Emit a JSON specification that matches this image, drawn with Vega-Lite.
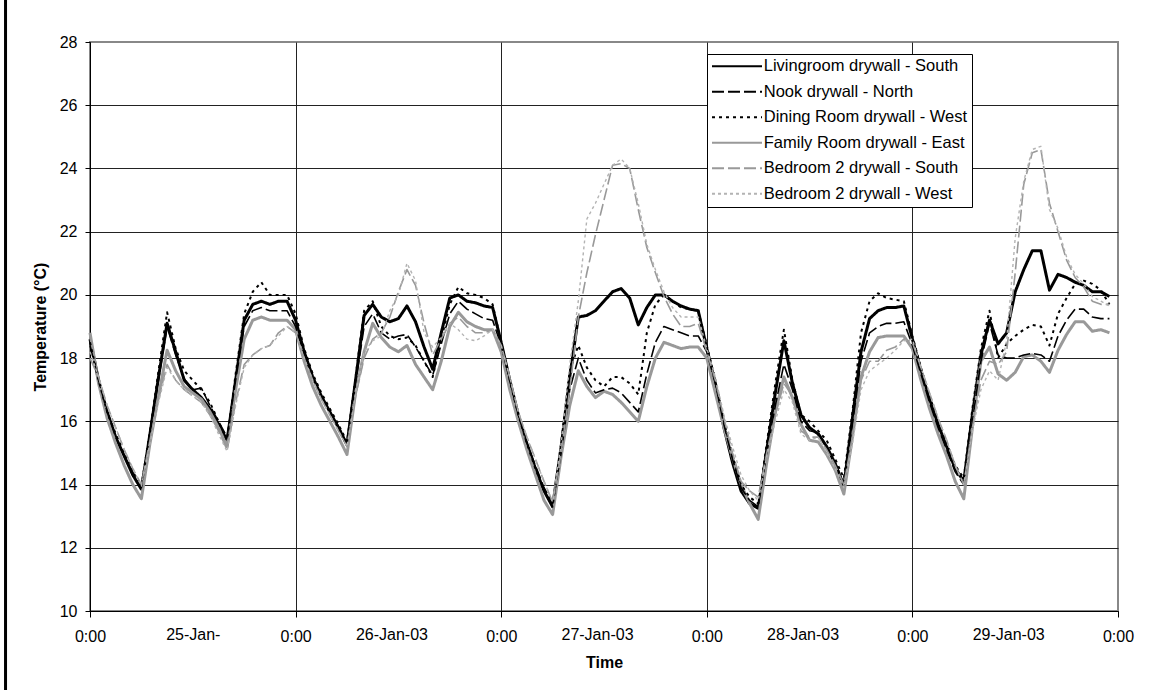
{
  "$schema": "https://vega.github.io/schema/vega-lite/v6.json",
  "width": 1028,
  "height": 569,
  "autosize": {"type": "none"},
  "padding": {"left": 90, "top": 42, "right": 38, "bottom": 79},
  "background": "white",
  "data": {"values": [
{"t":0,"s":"A","v":18.6},{"t":1,"s":"A","v":17.3},{"t":2,"s":"A","v":16.3},{"t":3,"s":"A","v":15.5},{"t":4,"s":"A","v":14.9},{"t":5,"s":"A","v":14.3},{"t":6,"s":"A","v":13.85},{"t":7,"s":"A","v":15.6},{"t":8,"s":"A","v":17.4},{"t":9,"s":"A","v":19.1},{"t":10,"s":"A","v":18.2},{"t":11,"s":"A","v":17.3},{"t":12,"s":"A","v":17.0},{"t":13,"s":"A","v":16.75},{"t":14,"s":"A","v":16.4},{"t":15,"s":"A","v":15.9},{"t":16,"s":"A","v":15.4},{"t":17,"s":"A","v":17.3},{"t":18,"s":"A","v":19.2},{"t":19,"s":"A","v":19.7},{"t":20,"s":"A","v":19.8},{"t":21,"s":"A","v":19.7},{"t":22,"s":"A","v":19.8},{"t":23,"s":"A","v":19.8},
{"t":24,"s":"A","v":19.2},{"t":25,"s":"A","v":18.2},{"t":26,"s":"A","v":17.4},{"t":27,"s":"A","v":16.8},{"t":28,"s":"A","v":16.3},{"t":29,"s":"A","v":15.8},{"t":30,"s":"A","v":15.25},{"t":31,"s":"A","v":17.3},{"t":32,"s":"A","v":19.35},{"t":33,"s":"A","v":19.7},{"t":34,"s":"A","v":19.3},{"t":35,"s":"A","v":19.15},{"t":36,"s":"A","v":19.25},{"t":37,"s":"A","v":19.65},{"t":38,"s":"A","v":19.15},{"t":39,"s":"A","v":18.35},{"t":40,"s":"A","v":17.65},{"t":41,"s":"A","v":18.8},{"t":42,"s":"A","v":19.9},{"t":43,"s":"A","v":20.0},{"t":44,"s":"A","v":19.8},{"t":45,"s":"A","v":19.75},{"t":46,"s":"A","v":19.65},{"t":47,"s":"A","v":19.6},
{"t":48,"s":"A","v":18.5},{"t":49,"s":"A","v":17.3},{"t":50,"s":"A","v":16.2},{"t":51,"s":"A","v":15.3},{"t":52,"s":"A","v":14.5},{"t":53,"s":"A","v":13.8},{"t":54,"s":"A","v":13.3},{"t":55,"s":"A","v":15.2},{"t":56,"s":"A","v":17.4},{"t":57,"s":"A","v":19.3},{"t":58,"s":"A","v":19.35},{"t":59,"s":"A","v":19.5},{"t":60,"s":"A","v":19.8},{"t":61,"s":"A","v":20.1},{"t":62,"s":"A","v":20.2},{"t":63,"s":"A","v":19.9},{"t":64,"s":"A","v":19.05},{"t":65,"s":"A","v":19.6},{"t":66,"s":"A","v":20.0},{"t":67,"s":"A","v":20.0},{"t":68,"s":"A","v":19.8},{"t":69,"s":"A","v":19.65},{"t":70,"s":"A","v":19.55},{"t":71,"s":"A","v":19.5},
{"t":72,"s":"A","v":18.3},{"t":73,"s":"A","v":17.2},{"t":74,"s":"A","v":15.8},{"t":75,"s":"A","v":14.7},{"t":76,"s":"A","v":13.8},{"t":77,"s":"A","v":13.4},{"t":78,"s":"A","v":13.25},{"t":79,"s":"A","v":15.1},{"t":80,"s":"A","v":16.9},{"t":81,"s":"A","v":18.55},{"t":82,"s":"A","v":17.2},{"t":83,"s":"A","v":16.2},{"t":84,"s":"A","v":15.8},{"t":85,"s":"A","v":15.6},{"t":86,"s":"A","v":15.2},{"t":87,"s":"A","v":14.65},{"t":88,"s":"A","v":13.95},{"t":89,"s":"A","v":16.1},{"t":90,"s":"A","v":18.2},{"t":91,"s":"A","v":19.25},{"t":92,"s":"A","v":19.5},{"t":93,"s":"A","v":19.6},{"t":94,"s":"A","v":19.6},{"t":95,"s":"A","v":19.65},
{"t":96,"s":"A","v":18.6},{"t":97,"s":"A","v":17.6},{"t":98,"s":"A","v":16.7},{"t":99,"s":"A","v":15.9},{"t":100,"s":"A","v":15.2},{"t":101,"s":"A","v":14.5},{"t":102,"s":"A","v":14.1},{"t":103,"s":"A","v":16.2},{"t":104,"s":"A","v":18.1},{"t":105,"s":"A","v":19.2},{"t":106,"s":"A","v":18.45},{"t":107,"s":"A","v":18.8},{"t":108,"s":"A","v":20.1},{"t":109,"s":"A","v":20.8},{"t":110,"s":"A","v":21.4},{"t":111,"s":"A","v":21.4},{"t":112,"s":"A","v":20.15},{"t":113,"s":"A","v":20.65},{"t":114,"s":"A","v":20.55},{"t":115,"s":"A","v":20.4},{"t":116,"s":"A","v":20.3},{"t":117,"s":"A","v":20.1},{"t":118,"s":"A","v":20.1},{"t":119,"s":"A","v":19.95},
{"t":0,"s":"B","v":18.4},{"t":1,"s":"B","v":17.3},{"t":2,"s":"B","v":16.3},{"t":3,"s":"B","v":15.5},{"t":4,"s":"B","v":14.9},{"t":5,"s":"B","v":14.4},{"t":6,"s":"B","v":13.9},{"t":7,"s":"B","v":15.6},{"t":8,"s":"B","v":17.3},{"t":9,"s":"B","v":19.0},{"t":10,"s":"B","v":18.1},{"t":11,"s":"B","v":17.35},{"t":12,"s":"B","v":17.0},{"t":13,"s":"B","v":17.05},{"t":14,"s":"B","v":16.5},{"t":15,"s":"B","v":16.0},{"t":16,"s":"B","v":15.5},{"t":17,"s":"B","v":17.3},{"t":18,"s":"B","v":19.0},{"t":19,"s":"B","v":19.5},{"t":20,"s":"B","v":19.6},{"t":21,"s":"B","v":19.5},{"t":22,"s":"B","v":19.5},{"t":23,"s":"B","v":19.5},
{"t":24,"s":"B","v":19.0},{"t":25,"s":"B","v":18.1},{"t":26,"s":"B","v":17.4},{"t":27,"s":"B","v":16.8},{"t":28,"s":"B","v":16.3},{"t":29,"s":"B","v":15.85},{"t":30,"s":"B","v":15.3},{"t":31,"s":"B","v":17.2},{"t":32,"s":"B","v":19.0},{"t":33,"s":"B","v":19.4},{"t":34,"s":"B","v":18.8},{"t":35,"s":"B","v":18.6},{"t":36,"s":"B","v":18.7},{"t":37,"s":"B","v":18.75},{"t":38,"s":"B","v":18.35},{"t":39,"s":"B","v":17.9},{"t":40,"s":"B","v":17.45},{"t":41,"s":"B","v":18.45},{"t":42,"s":"B","v":19.4},{"t":43,"s":"B","v":19.8},{"t":44,"s":"B","v":19.55},{"t":45,"s":"B","v":19.4},{"t":46,"s":"B","v":19.25},{"t":47,"s":"B","v":19.2},
{"t":48,"s":"B","v":18.4},{"t":49,"s":"B","v":17.3},{"t":50,"s":"B","v":16.2},{"t":51,"s":"B","v":15.3},{"t":52,"s":"B","v":14.6},{"t":53,"s":"B","v":13.9},{"t":54,"s":"B","v":13.4},{"t":55,"s":"B","v":15.0},{"t":56,"s":"B","v":17.0},{"t":57,"s":"B","v":18.0},{"t":58,"s":"B","v":17.3},{"t":59,"s":"B","v":16.9},{"t":60,"s":"B","v":17.0},{"t":61,"s":"B","v":17.05},{"t":62,"s":"B","v":16.9},{"t":63,"s":"B","v":16.6},{"t":64,"s":"B","v":16.3},{"t":65,"s":"B","v":17.5},{"t":66,"s":"B","v":18.5},{"t":67,"s":"B","v":19.0},{"t":68,"s":"B","v":18.9},{"t":69,"s":"B","v":18.8},{"t":70,"s":"B","v":18.7},{"t":71,"s":"B","v":18.7},
{"t":72,"s":"B","v":18.2},{"t":73,"s":"B","v":17.2},{"t":74,"s":"B","v":15.9},{"t":75,"s":"B","v":14.8},{"t":76,"s":"B","v":13.9},{"t":77,"s":"B","v":13.5},{"t":78,"s":"B","v":13.3},{"t":79,"s":"B","v":15.0},{"t":80,"s":"B","v":16.5},{"t":81,"s":"B","v":17.8},{"t":82,"s":"B","v":17.0},{"t":83,"s":"B","v":16.0},{"t":84,"s":"B","v":15.7},{"t":85,"s":"B","v":15.65},{"t":86,"s":"B","v":15.2},{"t":87,"s":"B","v":14.7},{"t":88,"s":"B","v":14.0},{"t":89,"s":"B","v":15.9},{"t":90,"s":"B","v":17.9},{"t":91,"s":"B","v":18.8},{"t":92,"s":"B","v":19.0},{"t":93,"s":"B","v":19.1},{"t":94,"s":"B","v":19.1},{"t":95,"s":"B","v":19.15},
{"t":96,"s":"B","v":18.4},{"t":97,"s":"B","v":17.5},{"t":98,"s":"B","v":16.6},{"t":99,"s":"B","v":15.8},{"t":100,"s":"B","v":15.1},{"t":101,"s":"B","v":14.4},{"t":102,"s":"B","v":14.0},{"t":103,"s":"B","v":16.0},{"t":104,"s":"B","v":17.9},{"t":105,"s":"B","v":19.1},{"t":106,"s":"B","v":18.1},{"t":107,"s":"B","v":18.0},{"t":108,"s":"B","v":18.0},{"t":109,"s":"B","v":18.1},{"t":110,"s":"B","v":18.15},{"t":111,"s":"B","v":18.1},{"t":112,"s":"B","v":17.9},{"t":113,"s":"B","v":18.7},{"t":114,"s":"B","v":19.2},{"t":115,"s":"B","v":19.55},{"t":116,"s":"B","v":19.55},{"t":117,"s":"B","v":19.3},{"t":118,"s":"B","v":19.25},{"t":119,"s":"B","v":19.25},
{"t":0,"s":"C","v":18.5},{"t":1,"s":"C","v":17.3},{"t":2,"s":"C","v":16.3},{"t":3,"s":"C","v":15.6},{"t":4,"s":"C","v":15.0},{"t":5,"s":"C","v":14.4},{"t":6,"s":"C","v":13.95},{"t":7,"s":"C","v":15.7},{"t":8,"s":"C","v":17.6},{"t":9,"s":"C","v":19.45},{"t":10,"s":"C","v":18.3},{"t":11,"s":"C","v":17.6},{"t":12,"s":"C","v":17.3},{"t":13,"s":"C","v":17.0},{"t":14,"s":"C","v":16.6},{"t":15,"s":"C","v":16.0},{"t":16,"s":"C","v":15.4},{"t":17,"s":"C","v":17.5},{"t":18,"s":"C","v":19.4},{"t":19,"s":"C","v":20.1},{"t":20,"s":"C","v":20.4},{"t":21,"s":"C","v":20.0},{"t":22,"s":"C","v":20.0},{"t":23,"s":"C","v":20.0},
{"t":24,"s":"C","v":19.4},{"t":25,"s":"C","v":18.3},{"t":26,"s":"C","v":17.5},{"t":27,"s":"C","v":16.9},{"t":28,"s":"C","v":16.4},{"t":29,"s":"C","v":15.9},{"t":30,"s":"C","v":15.35},{"t":31,"s":"C","v":17.4},{"t":32,"s":"C","v":19.5},{"t":33,"s":"C","v":19.8},{"t":34,"s":"C","v":19.0},{"t":35,"s":"C","v":18.7},{"t":36,"s":"C","v":18.6},{"t":37,"s":"C","v":18.65},{"t":38,"s":"C","v":18.4},{"t":39,"s":"C","v":17.9},{"t":40,"s":"C","v":17.4},{"t":41,"s":"C","v":18.6},{"t":42,"s":"C","v":19.7},{"t":43,"s":"C","v":20.25},{"t":44,"s":"C","v":20.05},{"t":45,"s":"C","v":20.0},{"t":46,"s":"C","v":19.9},{"t":47,"s":"C","v":19.7},
{"t":48,"s":"C","v":18.5},{"t":49,"s":"C","v":17.3},{"t":50,"s":"C","v":16.2},{"t":51,"s":"C","v":15.3},{"t":52,"s":"C","v":14.5},{"t":53,"s":"C","v":13.8},{"t":54,"s":"C","v":13.3},{"t":55,"s":"C","v":15.3},{"t":56,"s":"C","v":17.6},{"t":57,"s":"C","v":18.4},{"t":58,"s":"C","v":17.7},{"t":59,"s":"C","v":17.3},{"t":60,"s":"C","v":17.1},{"t":61,"s":"C","v":17.4},{"t":62,"s":"C","v":17.4},{"t":63,"s":"C","v":17.2},{"t":64,"s":"C","v":16.85},{"t":65,"s":"C","v":18.8},{"t":66,"s":"C","v":19.7},{"t":67,"s":"C","v":20.0},{"t":68,"s":"C","v":19.8},{"t":69,"s":"C","v":19.6},{"t":70,"s":"C","v":19.55},{"t":71,"s":"C","v":19.5},
{"t":72,"s":"C","v":18.4},{"t":73,"s":"C","v":17.3},{"t":74,"s":"C","v":16.0},{"t":75,"s":"C","v":14.9},{"t":76,"s":"C","v":14.0},{"t":77,"s":"C","v":13.6},{"t":78,"s":"C","v":13.4},{"t":79,"s":"C","v":15.3},{"t":80,"s":"C","v":17.2},{"t":81,"s":"C","v":18.9},{"t":82,"s":"C","v":17.3},{"t":83,"s":"C","v":16.2},{"t":84,"s":"C","v":16.0},{"t":85,"s":"C","v":15.7},{"t":86,"s":"C","v":15.4},{"t":87,"s":"C","v":14.8},{"t":88,"s":"C","v":14.2},{"t":89,"s":"C","v":16.3},{"t":90,"s":"C","v":18.8},{"t":91,"s":"C","v":19.8},{"t":92,"s":"C","v":20.05},{"t":93,"s":"C","v":19.9},{"t":94,"s":"C","v":19.85},{"t":95,"s":"C","v":19.8},
{"t":96,"s":"C","v":18.7},{"t":97,"s":"C","v":17.7},{"t":98,"s":"C","v":16.8},{"t":99,"s":"C","v":16.0},{"t":100,"s":"C","v":15.3},{"t":101,"s":"C","v":14.6},{"t":102,"s":"C","v":14.2},{"t":103,"s":"C","v":16.4},{"t":104,"s":"C","v":18.3},{"t":105,"s":"C","v":19.5},{"t":106,"s":"C","v":18.0},{"t":107,"s":"C","v":18.45},{"t":108,"s":"C","v":18.7},{"t":109,"s":"C","v":18.9},{"t":110,"s":"C","v":19.05},{"t":111,"s":"C","v":19.0},{"t":112,"s":"C","v":18.4},{"t":113,"s":"C","v":19.4},{"t":114,"s":"C","v":19.9},{"t":115,"s":"C","v":20.35},{"t":116,"s":"C","v":20.45},{"t":117,"s":"C","v":20.35},{"t":118,"s":"C","v":20.15},{"t":119,"s":"C","v":19.7},
{"t":0,"s":"D","v":18.8},{"t":1,"s":"D","v":17.2},{"t":2,"s":"D","v":16.1},{"t":3,"s":"D","v":15.3},{"t":4,"s":"D","v":14.6},{"t":5,"s":"D","v":14.0},{"t":6,"s":"D","v":13.55},{"t":7,"s":"D","v":15.3},{"t":8,"s":"D","v":16.8},{"t":9,"s":"D","v":18.25},{"t":10,"s":"D","v":17.6},{"t":11,"s":"D","v":17.1},{"t":12,"s":"D","v":16.9},{"t":13,"s":"D","v":16.7},{"t":14,"s":"D","v":16.3},{"t":15,"s":"D","v":15.8},{"t":16,"s":"D","v":15.2},{"t":17,"s":"D","v":17.0},{"t":18,"s":"D","v":18.6},{"t":19,"s":"D","v":19.2},{"t":20,"s":"D","v":19.3},{"t":21,"s":"D","v":19.2},{"t":22,"s":"D","v":19.2},{"t":23,"s":"D","v":19.2},
{"t":24,"s":"D","v":18.9},{"t":25,"s":"D","v":17.9},{"t":26,"s":"D","v":17.1},{"t":27,"s":"D","v":16.5},{"t":28,"s":"D","v":16.0},{"t":29,"s":"D","v":15.5},{"t":30,"s":"D","v":14.95},{"t":31,"s":"D","v":16.9},{"t":32,"s":"D","v":18.2},{"t":33,"s":"D","v":19.1},{"t":34,"s":"D","v":18.65},{"t":35,"s":"D","v":18.35},{"t":36,"s":"D","v":18.2},{"t":37,"s":"D","v":18.4},{"t":38,"s":"D","v":17.8},{"t":39,"s":"D","v":17.4},{"t":40,"s":"D","v":17.0},{"t":41,"s":"D","v":17.9},{"t":42,"s":"D","v":19.0},{"t":43,"s":"D","v":19.45},{"t":44,"s":"D","v":19.15},{"t":45,"s":"D","v":19.0},{"t":46,"s":"D","v":18.9},{"t":47,"s":"D","v":18.9},
{"t":48,"s":"D","v":18.2},{"t":49,"s":"D","v":17.0},{"t":50,"s":"D","v":16.0},{"t":51,"s":"D","v":15.1},{"t":52,"s":"D","v":14.3},{"t":53,"s":"D","v":13.5},{"t":54,"s":"D","v":13.05},{"t":55,"s":"D","v":14.9},{"t":56,"s":"D","v":16.5},{"t":57,"s":"D","v":17.6},{"t":58,"s":"D","v":17.1},{"t":59,"s":"D","v":16.75},{"t":60,"s":"D","v":16.95},{"t":61,"s":"D","v":16.85},{"t":62,"s":"D","v":16.6},{"t":63,"s":"D","v":16.3},{"t":64,"s":"D","v":16.0},{"t":65,"s":"D","v":17.1},{"t":66,"s":"D","v":18.0},{"t":67,"s":"D","v":18.5},{"t":68,"s":"D","v":18.4},{"t":69,"s":"D","v":18.3},{"t":70,"s":"D","v":18.35},{"t":71,"s":"D","v":18.35},
{"t":72,"s":"D","v":18.0},{"t":73,"s":"D","v":16.9},{"t":74,"s":"D","v":15.8},{"t":75,"s":"D","v":14.85},{"t":76,"s":"D","v":14.0},{"t":77,"s":"D","v":13.4},{"t":78,"s":"D","v":12.9},{"t":79,"s":"D","v":14.7},{"t":80,"s":"D","v":16.3},{"t":81,"s":"D","v":17.4},{"t":82,"s":"D","v":16.75},{"t":83,"s":"D","v":15.9},{"t":84,"s":"D","v":15.4},{"t":85,"s":"D","v":15.35},{"t":86,"s":"D","v":14.95},{"t":87,"s":"D","v":14.45},{"t":88,"s":"D","v":13.7},{"t":89,"s":"D","v":15.5},{"t":90,"s":"D","v":17.4},{"t":91,"s":"D","v":18.2},{"t":92,"s":"D","v":18.65},{"t":93,"s":"D","v":18.7},{"t":94,"s":"D","v":18.7},{"t":95,"s":"D","v":18.7},
{"t":96,"s":"D","v":18.3},{"t":97,"s":"D","v":17.3},{"t":98,"s":"D","v":16.4},{"t":99,"s":"D","v":15.6},{"t":100,"s":"D","v":14.9},{"t":101,"s":"D","v":14.1},{"t":102,"s":"D","v":13.55},{"t":103,"s":"D","v":15.8},{"t":104,"s":"D","v":17.9},{"t":105,"s":"D","v":18.35},{"t":106,"s":"D","v":17.5},{"t":107,"s":"D","v":17.3},{"t":108,"s":"D","v":17.55},{"t":109,"s":"D","v":18.05},{"t":110,"s":"D","v":18.1},{"t":111,"s":"D","v":17.9},{"t":112,"s":"D","v":17.55},{"t":113,"s":"D","v":18.25},{"t":114,"s":"D","v":18.75},{"t":115,"s":"D","v":19.15},{"t":116,"s":"D","v":19.15},{"t":117,"s":"D","v":18.85},{"t":118,"s":"D","v":18.9},{"t":119,"s":"D","v":18.8},
{"t":0,"s":"E","v":18.0},{"t":1,"s":"E","v":17.4},{"t":2,"s":"E","v":16.5},{"t":3,"s":"E","v":15.8},{"t":4,"s":"E","v":15.1},{"t":5,"s":"E","v":14.5},{"t":6,"s":"E","v":14.0},{"t":7,"s":"E","v":15.4},{"t":8,"s":"E","v":16.7},{"t":9,"s":"E","v":17.8},{"t":10,"s":"E","v":17.3},{"t":11,"s":"E","v":17.0},{"t":12,"s":"E","v":16.8},{"t":13,"s":"E","v":16.6},{"t":14,"s":"E","v":16.2},{"t":15,"s":"E","v":15.7},{"t":16,"s":"E","v":15.1},{"t":17,"s":"E","v":16.6},{"t":18,"s":"E","v":17.8},{"t":19,"s":"E","v":18.1},{"t":20,"s":"E","v":18.3},{"t":21,"s":"E","v":18.4},{"t":22,"s":"E","v":18.8},{"t":23,"s":"E","v":19.0},
{"t":24,"s":"E","v":18.8},{"t":25,"s":"E","v":18.0},{"t":26,"s":"E","v":17.3},{"t":27,"s":"E","v":16.7},{"t":28,"s":"E","v":16.2},{"t":29,"s":"E","v":15.7},{"t":30,"s":"E","v":15.2},{"t":31,"s":"E","v":16.8},{"t":32,"s":"E","v":18.0},{"t":33,"s":"E","v":18.6},{"t":34,"s":"E","v":18.8},{"t":35,"s":"E","v":19.3},{"t":36,"s":"E","v":20.1},{"t":37,"s":"E","v":20.8},{"t":38,"s":"E","v":20.3},{"t":39,"s":"E","v":19.1},{"t":40,"s":"E","v":18.1},{"t":41,"s":"E","v":18.6},{"t":42,"s":"E","v":19.1},{"t":43,"s":"E","v":19.3},{"t":44,"s":"E","v":19.0},{"t":45,"s":"E","v":18.8},{"t":46,"s":"E","v":18.8},{"t":47,"s":"E","v":18.9},
{"t":48,"s":"E","v":18.4},{"t":49,"s":"E","v":17.4},{"t":50,"s":"E","v":16.3},{"t":51,"s":"E","v":15.5},{"t":52,"s":"E","v":14.8},{"t":53,"s":"E","v":14.1},{"t":54,"s":"E","v":13.45},{"t":55,"s":"E","v":15.0},{"t":56,"s":"E","v":17.0},{"t":57,"s":"E","v":19.3},{"t":58,"s":"E","v":20.7},{"t":59,"s":"E","v":21.9},{"t":60,"s":"E","v":23.0},{"t":61,"s":"E","v":24.1},{"t":62,"s":"E","v":24.15},{"t":63,"s":"E","v":24.0},{"t":64,"s":"E","v":22.7},{"t":65,"s":"E","v":21.5},{"t":66,"s":"E","v":20.7},{"t":67,"s":"E","v":19.95},{"t":68,"s":"E","v":19.4},{"t":69,"s":"E","v":19.0},{"t":70,"s":"E","v":19.0},{"t":71,"s":"E","v":19.1},
{"t":72,"s":"E","v":18.2},{"t":73,"s":"E","v":17.3},{"t":74,"s":"E","v":16.1},{"t":75,"s":"E","v":15.0},{"t":76,"s":"E","v":14.1},{"t":77,"s":"E","v":13.8},{"t":78,"s":"E","v":13.6},{"t":79,"s":"E","v":15.0},{"t":80,"s":"E","v":16.2},{"t":81,"s":"E","v":17.2},{"t":82,"s":"E","v":16.8},{"t":83,"s":"E","v":15.7},{"t":84,"s":"E","v":15.5},{"t":85,"s":"E","v":15.5},{"t":86,"s":"E","v":15.1},{"t":87,"s":"E","v":14.6},{"t":88,"s":"E","v":14.0},{"t":89,"s":"E","v":15.5},{"t":90,"s":"E","v":17.3},{"t":91,"s":"E","v":17.9},{"t":92,"s":"E","v":17.9},{"t":93,"s":"E","v":18.25},{"t":94,"s":"E","v":18.35},{"t":95,"s":"E","v":18.6},
{"t":96,"s":"E","v":18.5},{"t":97,"s":"E","v":17.7},{"t":98,"s":"E","v":16.9},{"t":99,"s":"E","v":16.1},{"t":100,"s":"E","v":15.4},{"t":101,"s":"E","v":14.6},{"t":102,"s":"E","v":14.0},{"t":103,"s":"E","v":15.8},{"t":104,"s":"E","v":17.3},{"t":105,"s":"E","v":17.9},{"t":106,"s":"E","v":17.8},{"t":107,"s":"E","v":18.2},{"t":108,"s":"E","v":20.7},{"t":109,"s":"E","v":23.5},{"t":110,"s":"E","v":24.5},{"t":111,"s":"E","v":24.6},{"t":112,"s":"E","v":22.9},{"t":113,"s":"E","v":22.0},{"t":114,"s":"E","v":21.1},{"t":115,"s":"E","v":20.55},{"t":116,"s":"E","v":20.25},{"t":117,"s":"E","v":19.8},{"t":118,"s":"E","v":19.7},{"t":119,"s":"E","v":19.7},
{"t":0,"s":"F","v":18.2},{"t":1,"s":"F","v":17.4},{"t":2,"s":"F","v":16.5},{"t":3,"s":"F","v":15.8},{"t":4,"s":"F","v":15.1},{"t":5,"s":"F","v":14.5},{"t":6,"s":"F","v":13.95},{"t":7,"s":"F","v":15.3},{"t":8,"s":"F","v":16.6},{"t":9,"s":"F","v":17.7},{"t":10,"s":"F","v":17.3},{"t":11,"s":"F","v":17.0},{"t":12,"s":"F","v":16.8},{"t":13,"s":"F","v":16.6},{"t":14,"s":"F","v":16.2},{"t":15,"s":"F","v":15.6},{"t":16,"s":"F","v":15.05},{"t":17,"s":"F","v":16.5},{"t":18,"s":"F","v":17.7},{"t":19,"s":"F","v":18.1},{"t":20,"s":"F","v":18.3},{"t":21,"s":"F","v":18.4},{"t":22,"s":"F","v":18.7},{"t":23,"s":"F","v":19.0},
{"t":24,"s":"F","v":18.8},{"t":25,"s":"F","v":18.0},{"t":26,"s":"F","v":17.3},{"t":27,"s":"F","v":16.7},{"t":28,"s":"F","v":16.2},{"t":29,"s":"F","v":15.7},{"t":30,"s":"F","v":15.2},{"t":31,"s":"F","v":16.9},{"t":32,"s":"F","v":18.2},{"t":33,"s":"F","v":18.55},{"t":34,"s":"F","v":18.7},{"t":35,"s":"F","v":19.5},{"t":36,"s":"F","v":20.0},{"t":37,"s":"F","v":21.0},{"t":38,"s":"F","v":20.45},{"t":39,"s":"F","v":18.8},{"t":40,"s":"F","v":18.35},{"t":41,"s":"F","v":18.65},{"t":42,"s":"F","v":19.1},{"t":43,"s":"F","v":18.9},{"t":44,"s":"F","v":18.6},{"t":45,"s":"F","v":18.55},{"t":46,"s":"F","v":18.7},{"t":47,"s":"F","v":18.9},
{"t":48,"s":"F","v":18.4},{"t":49,"s":"F","v":17.4},{"t":50,"s":"F","v":16.3},{"t":51,"s":"F","v":15.5},{"t":52,"s":"F","v":14.8},{"t":53,"s":"F","v":14.1},{"t":54,"s":"F","v":13.45},{"t":55,"s":"F","v":15.3},{"t":56,"s":"F","v":17.8},{"t":57,"s":"F","v":19.8},{"t":58,"s":"F","v":22.4},{"t":59,"s":"F","v":22.9},{"t":60,"s":"F","v":23.5},{"t":61,"s":"F","v":24.1},{"t":62,"s":"F","v":24.3},{"t":63,"s":"F","v":24.0},{"t":64,"s":"F","v":22.9},{"t":65,"s":"F","v":21.6},{"t":66,"s":"F","v":20.8},{"t":67,"s":"F","v":20.1},{"t":68,"s":"F","v":19.6},{"t":69,"s":"F","v":19.3},{"t":70,"s":"F","v":19.3},{"t":71,"s":"F","v":19.3},
{"t":72,"s":"F","v":18.3},{"t":73,"s":"F","v":17.4},{"t":74,"s":"F","v":16.2},{"t":75,"s":"F","v":15.2},{"t":76,"s":"F","v":14.3},{"t":77,"s":"F","v":13.8},{"t":78,"s":"F","v":13.5},{"t":79,"s":"F","v":14.9},{"t":80,"s":"F","v":16.0},{"t":81,"s":"F","v":17.0},{"t":82,"s":"F","v":16.6},{"t":83,"s":"F","v":15.6},{"t":84,"s":"F","v":15.4},{"t":85,"s":"F","v":15.5},{"t":86,"s":"F","v":15.0},{"t":87,"s":"F","v":14.5},{"t":88,"s":"F","v":13.9},{"t":89,"s":"F","v":15.3},{"t":90,"s":"F","v":17.0},{"t":91,"s":"F","v":17.6},{"t":92,"s":"F","v":17.8},{"t":93,"s":"F","v":18.0},{"t":94,"s":"F","v":18.25},{"t":95,"s":"F","v":18.55},
{"t":96,"s":"F","v":18.6},{"t":97,"s":"F","v":17.7},{"t":98,"s":"F","v":16.9},{"t":99,"s":"F","v":16.1},{"t":100,"s":"F","v":15.4},{"t":101,"s":"F","v":14.6},{"t":102,"s":"F","v":14.0},{"t":103,"s":"F","v":15.7},{"t":104,"s":"F","v":17.0},{"t":105,"s":"F","v":17.6},{"t":106,"s":"F","v":17.3},{"t":107,"s":"F","v":18.55},{"t":108,"s":"F","v":21.8},{"t":109,"s":"F","v":23.6},{"t":110,"s":"F","v":24.6},{"t":111,"s":"F","v":24.7},{"t":112,"s":"F","v":22.7},{"t":113,"s":"F","v":22.1},{"t":114,"s":"F","v":21.2},{"t":115,"s":"F","v":20.65},{"t":116,"s":"F","v":20.35},{"t":117,"s":"F","v":19.95},{"t":118,"s":"F","v":19.8},{"t":119,"s":"F","v":19.65}
  ]},
  "layer": [
    {
      "encoding": {
        "x": {
          "field": "t", "type": "quantitative",
          "scale": {"domain": [0, 120], "nice": false, "zero": false},
          "axis": {
            "title": "Time",
            "values": [0, 12, 24, 36, 48, 60, 72, 84, 96, 108, 120],
            "labelExpr": "datum.value % 24 === 0 ? '0:00' : datum.value === 12 ? '25-Jan-' : datum.value === 36 ? '26-Jan-03' : datum.value === 60 ? '27-Jan-03' : datum.value === 84 ? '28-Jan-03' : '29-Jan-03'",
            "tickSize": 6,
            "tickOpacity": {"condition": {"test": "datum.value % 24 === 0", "value": 1}, "value": 0},
            "gridOpacity": {"condition": {"test": "datum.value % 24 === 0 && datum.value < 120", "value": 1}, "value": 0},
            "labelOffset": {"condition": {"test": "datum.value % 24 === 12 && datum.value > 12", "value": -7}, "value": 0},
            "labelPadding": {"condition": {"test": "datum.value % 24 === 12", "value": 9}, "value": 11},
            "labelFlush": false,
            "labelOverlap": false,
            "titlePadding": 10
          }
        },
        "y": {
          "field": "v", "type": "quantitative",
          "scale": {"domain": [10, 28], "nice": false, "zero": false},
          "axis": {
            "title": "Temperature (°C)",
            "values": [10, 12, 14, 16, 18, 20, 22, 24, 26, 28],
            "tickSize": 5,
            "labelPadding": 8,
            "gridOpacity": {"condition": {"test": "datum.value >= 28", "value": 0}, "value": 1},
            "titlePadding": 11
          }
        },
        "color": {
          "field": "s", "type": "nominal",
          "scale": {"domain": ["A", "B", "C", "D", "E", "F"], "range": ["#000000", "#000000", "#000000", "#999999", "#999999", "#b3b3b3"]},
          "legend": {
            "orient": "none", "legendX": 617, "legendY": 12,
            "title": null,
            "padding": 4,
            "rowPadding": 8.5,
            "symbolType": "M-4,0H4",
            "symbolSize": 156.25,
            "symbolOffset": 17.75,
            "symbolStrokeWidth": 2,
            "symbolFillColor": "transparent",
            "labelOffset": 18.5,
            "labelFontSize": 16.5,
            "labelLimit": 0,
            "strokeColor": "#000000",
            "fillColor": "#ffffff",
            "labelExpr": "datum.label === 'A' ? 'Livingroom drywall - South' : datum.label === 'B' ? 'Nook drywall - North' : datum.label === 'C' ? 'Dining Room drywall - West' : datum.label === 'D' ? 'Family Room drywall - East' : datum.label === 'E' ? 'Bedroom 2 drywall - South' : 'Bedroom 2 drywall - West'"
          }
        },
        "strokeDash": {
          "field": "s", "type": "nominal",
          "scale": {"domain": ["A", "B", "C", "D", "E", "F"], "range": [[1, 0], [12, 4], [3, 4], [1, 0], [12, 4], [3, 3]]}
        }
      },
      "layer": [
        {
          "transform": [{"filter": "datum.s === 'A' || datum.s === 'D'"}],
          "mark": {"type": "line", "strokeWidth": 3, "strokeJoin": "round", "strokeCap": "butt"}
        },
        {
          "transform": [{"filter": "datum.s === 'C'"}],
          "mark": {"type": "line", "strokeWidth": 2, "strokeJoin": "round", "strokeCap": "butt"}
        },
        {
          "transform": [{"filter": "datum.s === 'B' || datum.s === 'E'"}],
          "mark": {"type": "line", "strokeWidth": 1.6, "strokeJoin": "round", "strokeCap": "butt"}
        },
        {
          "transform": [{"filter": "datum.s === 'F'"}],
          "mark": {"type": "line", "strokeWidth": 1.4, "strokeJoin": "round", "strokeCap": "butt"}
        }
      ]
    },
    {
      "data": {"values": [{}]},
      "mark": {"type": "rule", "color": "#000000", "strokeWidth": 3},
      "encoding": {
        "x": {"datum": -9.86, "type": "quantitative"},
        "y": {"datum": 7.4, "type": "quantitative"},
        "y2": {"datum": 29.5}
      }
    }
  ],
  "config": {
    "font": "Liberation Sans",
    "view": {"stroke": "#888888", "strokeWidth": 2},
    "axis": {
      "labelFont": "Liberation Sans",
      "labelFontSize": 16,
      "labelColor": "#000000",
      "titleFont": "Liberation Sans",
      "titleFontSize": 16,
      "titleFontWeight": "bold",
      "titleColor": "#000000",
      "domainColor": "#000000",
      "domainWidth": 1,
      "tickColor": "#000000",
      "gridColor": "#222222",
      "gridWidth": 1
    },
    "legend": {
      "labelFont": "Liberation Sans",
      "labelColor": "#000000"
    }
  }
}
